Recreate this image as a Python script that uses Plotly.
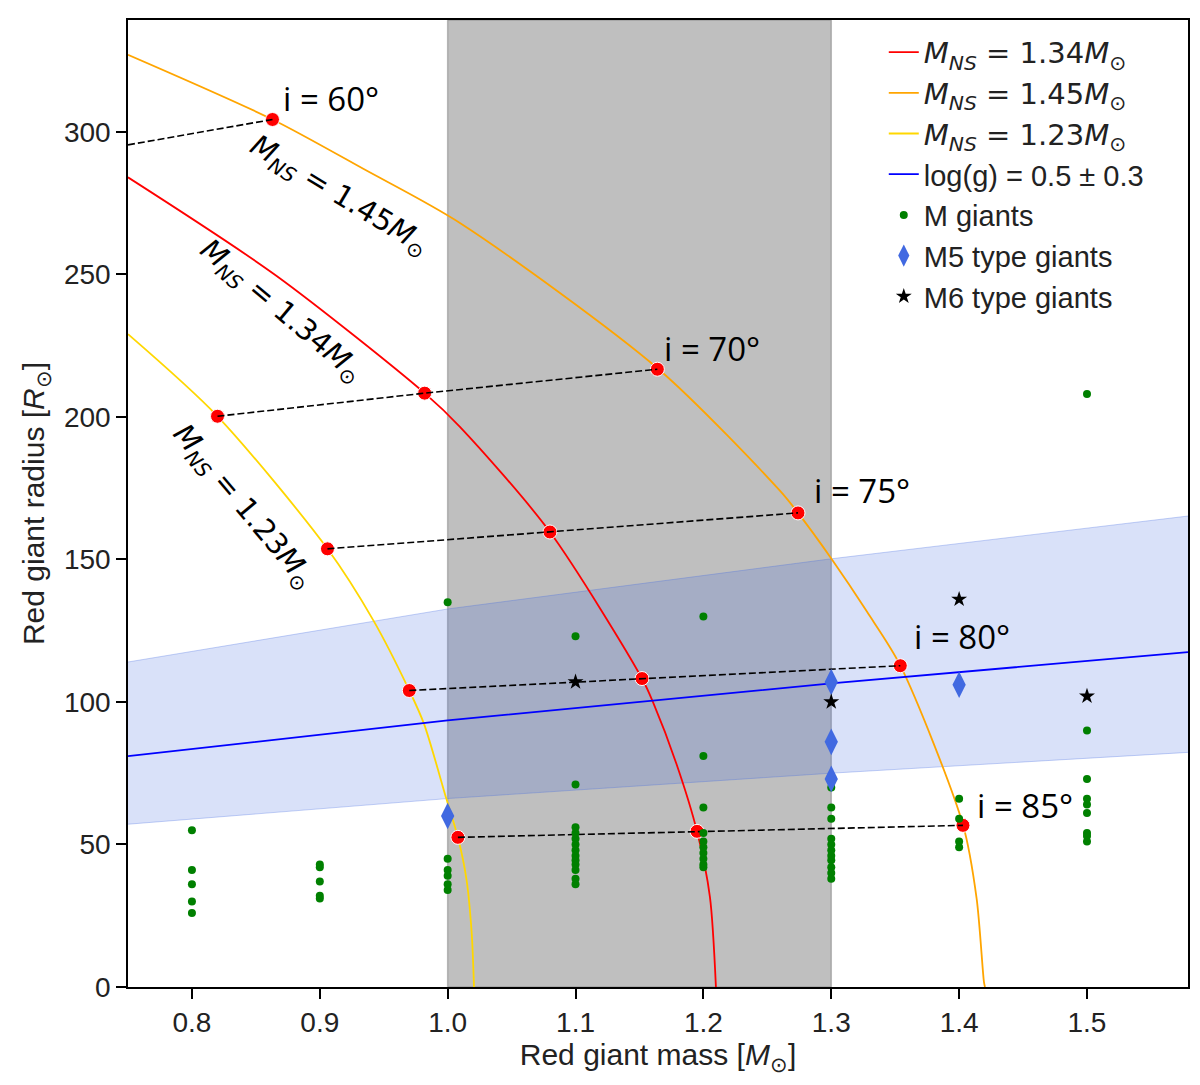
import plotly.graph_objects as go

# ---------------- data ----------------
# NS-mass curves: red giant mass [Msun] vs red giant radius [Rsun]
mns134_M = [0.75, 0.866, 0.982, 1.0096, 1.080, 1.152, 1.1606, 1.1789, 1.195, 1.2051, 1.2098]
mns134_R = [284, 249.5, 208.3, 196.5, 159.6, 108.2, 99.9, 78.3, 54.6, 31.6, 0]

mns145_M = [0.75, 0.863, 0.934, 1.0096, 1.165, 1.26, 1.274, 1.300, 1.328, 1.354, 1.403, 1.4137, 1.4194, 1.4202]
mns145_R = [327, 304.3, 287, 268, 216.7, 174, 166.3, 150.3, 131.6, 112.8, 56.9, 31, 1.8, 0]

mns123_M = [0.75, 0.82, 0.906, 0.942, 0.970, 0.9815, 0.999, 1.008, 1.0148, 1.0188, 1.0206]
mns123_R = [229, 200.2, 153.7, 128.5, 104, 92.3, 66, 52.5, 37.5, 18.8, 0]

# log(g) = 0.5 +/- 0.3 band
logg_M = [0.75, 1.0, 1.3, 1.579]
logg_R = [81, 93.5, 106.5, 117.5]
logg_hi = [114, 132.6, 150.2, 165.2]
logg_lo = [57.1, 66.1, 75, 82.3]

# equal-inclination points
incl_labels = ["i = 60°", "i = 70°", "i = 75°", "i = 80°", "i = 85°"]
i60_M = [0.75, 0.863]
i60_R = [295.4, 304.3]
i70_M = [0.820, 0.982, 1.164]
i70_R = [200.2, 208.3, 216.7]
i75_M = [0.906, 1.080, 1.274]
i75_R = [153.7, 159.6, 166.3]
i80_M = [0.970, 1.152, 1.354]
i80_R = [104.0, 108.2, 112.7]
i85_M = [1.008, 1.195, 1.403]
i85_R = [52.5, 54.6, 56.7]

# M giants
mg_M = ([0.8] * 5 + [0.9] * 5 + [1.0] * 6 + [1.1] * 13 + [1.2] * 10 +
        [1.3] * 11 + [1.4] * 4 + [1.5] * 9)
mg_R = ([55, 41, 36, 30, 26] +
        [43, 42, 37, 32, 31] +
        [135, 45, 41, 39, 36, 34] +
        [123, 71, 56, 54, 52, 50, 48, 46, 44.5, 43, 41, 38, 36] +
        [130, 81, 63, 54, 51, 49, 47, 45, 43, 42] +
        [70, 63, 59, 52, 50, 48, 46, 44.5, 42, 40, 38] +
        [66, 59, 51, 49] +
        [208, 90, 73, 66, 64, 61, 54, 53, 51])

# M5 type giants
m5_M = [1.0, 1.3, 1.3, 1.3, 1.4]
m5_R = [60, 107, 86, 73, 106]

# M6 type giants
m6_M = [1.1, 1.3, 1.4, 1.5]
m6_R = [107, 100, 136, 102]

x_ticks = [0.8, 0.9, 1.0, 1.1, 1.2, 1.3, 1.4, 1.5]
y_ticks = [0, 50, 100, 150, 200, 250, 300]
gray_band = [1.0, 1.3]

# ---------------- figure ----------------
fig = go.Figure()
MATH = "font-family:'DejaVu Sans'"

def mns_name(v):
    return (f"<span style=\"{MATH}\"><i>M<sub>NS</sub></i> = {v}<i>M</i><sub>⊙</sub></span>")

# blue band (fill)
fig.add_trace(go.Scatter(x=logg_M, y=logg_lo, mode="lines",
                         line=dict(color="rgba(65,105,225,0.3)", width=1),
                         showlegend=False, hoverinfo="skip"))
fig.add_trace(go.Scatter(x=logg_M, y=logg_hi, mode="lines", fill="tonexty",
                         fillcolor="rgba(65,105,225,0.2)",
                         line=dict(color="rgba(65,105,225,0.3)", width=1),
                         showlegend=False, hoverinfo="skip"))

# curves
fig.add_trace(go.Scatter(x=mns134_M, y=mns134_R, mode="lines", line=dict(color="red", width=1.8, shape="spline", smoothing=0.8),
                         name=mns_name("1.34"), legendrank=1, legendgroup="a"))
fig.add_trace(go.Scatter(x=mns145_M, y=mns145_R, mode="lines", line=dict(color="orange", width=1.8, shape="spline", smoothing=0.8),
                         name=mns_name("1.45"), legendrank=2, legendgroup="b"))
fig.add_trace(go.Scatter(x=mns123_M, y=mns123_R, mode="lines", line=dict(color="gold", width=1.8, shape="spline", smoothing=0.8),
                         name=mns_name("1.23"), legendrank=3, legendgroup="c"))
fig.add_trace(go.Scatter(x=logg_M, y=logg_R, mode="lines", line=dict(color="blue", width=1.8),
                         name="log(g) = 0.5 ± 0.3", legendrank=4, legendgroup="d"))

# inclination points and dashed connectors
incl_sets = [(i60_M[1:], i60_R[1:], i60_M, i60_R), (i70_M, i70_R, i70_M, i70_R),
             (i75_M, i75_R, i75_M, i75_R), (i80_M, i80_R, i80_M, i80_R),
             (i85_M, i85_R, i85_M, i85_R)]
for pm, pr, lm, lr in incl_sets:
    fig.add_trace(go.Scatter(x=pm, y=pr, mode="markers",
                             marker=dict(color="red", size=14, line=dict(color="white", width=1)),
                             showlegend=False, hoverinfo="skip"))
for pm, pr, lm, lr in incl_sets:
    fig.add_trace(go.Scatter(x=lm, y=lr, mode="lines",
                             line=dict(color="black", width=1.6, dash="7px,3px"),
                             showlegend=False, hoverinfo="skip"))

# stars catalogues
fig.add_trace(go.Scatter(x=mg_M, y=mg_R, mode="markers",
                         marker=dict(color="green", size=8),
                         name="M giants", legendrank=5, legendgroup="e"))
fig.add_trace(go.Scatter(x=m5_M, y=m5_R, mode="markers",
                         marker=dict(color="royalblue", size=19, symbol="diamond-tall"),
                         name="M5 type giants", legendrank=6, legendgroup="f"))
fig.add_trace(go.Scatter(x=m6_M, y=m6_R, mode="markers",
                         marker=dict(color="black", size=12, symbol="star"),
                         name="M6 type giants", legendrank=7, legendgroup="g"))

# gray region
fig.add_vrect(x0=gray_band[0], x1=gray_band[1], fillcolor="rgba(128,128,128,0.5)",
              line=dict(color="rgba(128,128,128,0.5)", width=1.5), layer="below")

# inclination labels
lab_pos = [(0.870, 311.7), (1.1676, 224.0), (1.285, 174.3), (1.3632, 122.9), (1.4124, 63.7)]
for txt, (lx, ly) in zip(incl_labels, lab_pos):
    fig.add_annotation(x=lx, y=ly, text=txt, showarrow=False, xanchor="left", yanchor="middle",
                       font=dict(family="Open Sans", size=33, color="black"))

# rotated curve labels
rot = [("1.45", 0.9150, 277.5, 31), ("1.34", 0.8694, 237.1, 40), ("1.23", 0.8401, 168.4, 50)]
for v, lx, ly, ang in rot:
    fig.add_annotation(x=lx, y=ly, text=f"<i>M<sub>NS</sub></i> = {v}<i>M</i><sub>⊙</sub>",
                       showarrow=False, textangle=ang, xanchor="center", yanchor="middle",
                       font=dict(family="DejaVu Sans", size=29, color="black"))

axis_common = dict(showline=True, linecolor="black", linewidth=1.6, mirror=True,
                   ticks="outside", ticklen=10, tickwidth=1.8, tickcolor="black",
                   showgrid=False, zeroline=False,
                   tickfont=dict(family="Liberation Sans", size=28, color="#222"))

fig.update_xaxes(range=[0.75, 1.579], tickvals=x_ticks, tickformat=".1f",
                 title=dict(text="Red giant mass [<i>M</i><sub>⊙</sub>]", standoff=6,
                            font=dict(family="Liberation Sans", size=30, color="#222")),
                 **axis_common)
fig.update_yaxes(range=[0, 339.2], tickvals=y_ticks,
                 title=dict(text="Red giant radius [<i>R</i><sub>⊙</sub>]", standoff=10,
                            font=dict(family="Liberation Sans", size=30, color="#222")),
                 **axis_common)

# page body has an 8 px margin: figure is placed at (8, 8)
fig.update_layout(
    width=1192, height=1077,
    margin=dict(l=120, r=12, t=10, b=98),
    plot_bgcolor="white", paper_bgcolor="white",
    legend=dict(x=0.713, y=0.993, xanchor="left", yanchor="top",
                font=dict(family="Liberation Sans", size=29, color="#222"),
                bgcolor="white", borderwidth=0, tracegroupgap=9,
                traceorder="normal"),
)

fig.write_html("out.html")
